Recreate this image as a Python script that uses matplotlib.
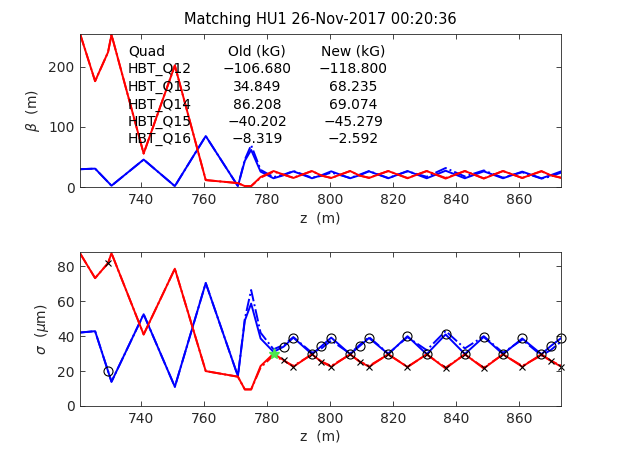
import matplotlib
matplotlib.use("Agg")
import matplotlib.pyplot as plt
import numpy as np

plt.rcParams['font.family'] = ['DejaVu Sans']

title = "Matching HU1 26-Nov-2017 00:20:36"

# z grid (m)
z = [720.6, 725.4, 729.5, 730.6, 740.8, 750.7, 760.5, 770.7, 772.9, 774.9, 777.9,
     782.0, 785.2, 788.3, 794.2, 797.2, 800.3, 806.3, 809.3, 812.3, 818.4, 824.5,
     830.6, 836.6, 842.7, 848.7, 854.8, 860.9, 867.0, 869.9, 873.3]

# beta functions (m)
beta_x_new = [30, 31, 8.7, 2.7, 46, 2, 85, 2, 44, 62, 26,
              15, 20, 26.5, 15, 20, 26.5, 15, 20, 26.5, 15, 27,
              15, 27.5, 15, 26.5, 15, 26, 15, 20, 26.5]
beta_x_old = [30, 31, 8.7, 2.7, 46, 2, 85, 2, 46, 70, 29,
              17, 21, 27, 16, 19, 24.5, 15.5, 21, 27, 15.5, 26.5,
              17.5, 32, 18, 28, 16, 25, 14.5, 18, 24.5]
beta_y_new = [255, 176, 224, 253, 56, 202, 12, 7, 2, 2, 17,
              27, 21, 15.5, 27, 19.5, 15.5, 27, 19.5, 15.5, 27, 15,
              27, 14.5, 27, 14.5, 27, 15.5, 27, 20, 15.5]
beta_y_old = [255, 176, 224, 253, 56, 202, 12, 7, 2, 2, 16,
              26, 21, 16, 27, 19.5, 15.5, 27, 19.5, 16, 27, 15.5,
              27, 15.5, 27, 15, 27, 15.5, 26.5, 20, 16]

# beam sizes (um)
sig_x_new = [42.1, 42.9, 20.0, 13.9, 52.6, 11.0, 70.5, 17.1, 49.0, 58.7, 38.7,
             31.0, 34.0, 39.2, 29.7, 34.3, 39.2, 29.7, 34.3, 39.0, 29.8, 40.0,
             29.7, 41.0, 29.8, 39.6, 29.7, 38.7, 29.7, 34.3, 39.0]
sig_x_old = [42.1, 42.9, 20.0, 13.9, 52.6, 11.0, 70.5, 17.1, 50.0, 66.5, 42.0,
             32.5, 35.0, 39.5, 30.5, 33.0, 37.5, 30.0, 35.0, 39.5, 30.0, 39.5,
             32.0, 43.0, 33.0, 40.0, 30.5, 38.0, 29.0, 32.0, 37.0]
sig_y_new = [87.6, 73.3, 81.9, 87.6, 41.0, 78.7, 20.0, 16.8, 9.5, 9.5, 22.9,
             30.0, 26.3, 22.5, 29.7, 25.3, 22.5, 29.7, 25.5, 22.5, 29.7, 22.3,
             29.7, 21.5, 29.7, 21.5, 29.7, 22.5, 29.7, 26.0, 22.5]
sig_y_old = [87.6, 73.3, 81.9, 87.6, 41.0, 78.7, 20.0, 16.8, 9.5, 9.5, 22.0,
             29.0, 26.0, 23.0, 29.5, 25.5, 23.0, 29.5, 25.5, 23.0, 29.5, 22.5,
             29.5, 22.0, 29.5, 22.0, 29.5, 23.0, 29.0, 26.0, 23.0]

# measured points
z_meas = [729.5, 785.2, 788.3, 794.2, 797.2, 800.3, 806.3, 809.3, 812.3, 818.4,
          824.5, 830.6, 836.6, 842.7, 848.7, 854.8, 860.9, 867.0, 869.9, 873.3]
sig_x_meas = [20.0, 33.9, 39.2, 29.7, 34.3, 39.2, 29.7, 34.3, 39.0, 29.8,
              40.0, 29.7, 41.0, 29.8, 39.6, 29.7, 38.7, 29.7, 34.3, 39.0]
sig_y_meas = [81.9, 26.3, 22.5, 29.7, 25.3, 22.5, 29.7, 25.5, 22.5, 29.7,
              22.3, 29.7, 21.5, 29.7, 21.5, 29.7, 22.5, 29.7, 26.0, 22.5]
z_match = [782.0]
sig_match = [30.0]

# quad table
quads = ['HBT_Q12', 'HBT_Q13', 'HBT_Q14', 'HBT_Q15', 'HBT_Q16']
old_kG = [-106.680, 34.849, 86.208, -40.202, -8.319]
new_kG = [-118.800, 68.235, 69.074, -45.279, -2.592]

xlim = (720.6, 873.3)
xticks = [740, 760, 780, 800, 820, 840, 860]

fig = plt.figure(figsize=(6.19, 4.59), dpi=100)
ax1 = fig.add_axes([0.1292, 0.5919, 0.7776, 0.3351])
ax2 = fig.add_axes([0.1292, 0.1155, 0.7776, 0.3344])

gray = (0.15, 0.15, 0.15)
lw = 1.4

def style(ax):
    ax.set_xlim(*xlim)
    ax.set_xticks(xticks)
    ax.tick_params(direction='in', length=3.5, width=0.6, top=True, right=True,
                   labelsize=10, colors=gray, pad=4)
    for s in ax.spines.values():
        s.set_color(gray)
        s.set_linewidth(0.6)

ax1.plot(z, beta_x_old, color='b', lw=lw, ls='-.')
ax1.plot(z, beta_x_new, color='b', lw=lw)
ax1.plot(z, beta_y_old, color='r', lw=lw, ls='-.')
ax1.plot(z, beta_y_new, color='r', lw=lw)
style(ax1)
ax1.set_ylim(0, 255)
ax1.set_yticks([0, 100, 200])
ax1.set_xlabel('z  (m)', fontsize=10, color=gray, labelpad=3)
ax1.set_ylabel(r'$\beta$  (m)', fontsize=10, color=gray, labelpad=4)
ax1.set_title(title, fontsize=10.5, pad=7)

rows_y = [0.8817, 0.7672, 0.6502, 0.5351, 0.4265, 0.3160]
fmt = lambda v: ('%.3f' % v).replace('-', '\u2212')
ax1.text(0.0997, rows_y[0], 'Quad', transform=ax1.transAxes, va='center', ha='left', fontsize=10)
ax1.text(0.3678, rows_y[0], 'Old (kG)', transform=ax1.transAxes, va='center', ha='center', fontsize=10)
ax1.text(0.5672, rows_y[0], 'New (kG)', transform=ax1.transAxes, va='center', ha='center', fontsize=10)
for i, q in enumerate(quads):
    yy = rows_y[i + 1]
    ax1.text(0.0997, yy, q, transform=ax1.transAxes, va='center', ha='left', fontsize=10)
    ax1.text(0.3678, yy, fmt(old_kG[i]), transform=ax1.transAxes, va='center', ha='center', fontsize=10)
    ax1.text(0.5672, yy, fmt(new_kG[i]), transform=ax1.transAxes, va='center', ha='center', fontsize=10)

ax2.plot(z, sig_x_old, color='b', lw=lw, ls='-.')
ax2.plot(z, sig_x_new, color='b', lw=lw)
ax2.plot(z, sig_y_old, color='r', lw=lw, ls='-.')
ax2.plot(z, sig_y_new, color='r', lw=lw)
ax2.plot(z_meas, sig_x_meas, ls='none', marker='o', mfc='none', mec='k', ms=6.5, mew=0.8, clip_on=False)
ax2.plot(z_meas, sig_y_meas, ls='none', marker='x', color='k', ms=5, mew=0.8, clip_on=False)
ax2.plot(z_match, sig_match, ls='none', marker='*', color=(0.3, 0.9, 0.3), ms=8)
style(ax2)
ax2.set_ylim(0, 88)
ax2.set_yticks([0, 20, 40, 60, 80])
ax2.set_xlabel('z  (m)', fontsize=10, color=gray, labelpad=3)
ax2.set_ylabel(r'$\sigma$  ($\mu$m)', fontsize=10, color=gray, labelpad=4)

fig.savefig('out.png', dpi=100)
